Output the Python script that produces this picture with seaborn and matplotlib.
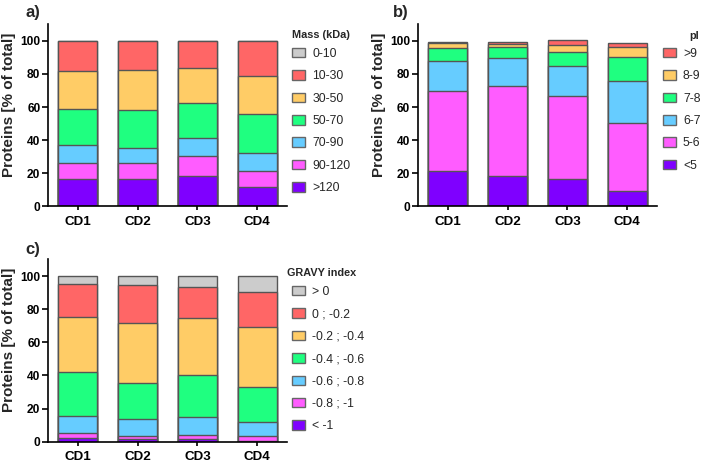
import pandas as pd
import matplotlib.pyplot as plt
import seaborn as sns
from matplotlib.patches import Patch

# samples on the x axis
samples = ["CD1", "CD2", "CD3", "CD4"]

# a) molecular mass classes, listed from the bottom of the stack to the top
mass_classes = [">120", "90-120", "70-90", "50-70", "30-50", "10-30", "0-10"]
mass_gt120 = [16.5, 16.5, 18.5, 11.5]
mass_90_120 = [10, 10, 12, 10]
mass_70_90 = [10.5, 9, 11, 11]
mass_50_70 = [22, 23, 21, 23]
mass_30_50 = [23, 24, 21, 23.5]
mass_10_30 = [18, 17.5, 16.5, 21]
mass_0_10 = [0, 0, 0, 0]

# b) isoelectric point classes
pi_classes = ["<5", "5-6", "6-7", "7-8", "8-9", ">9"]
pi_lt5 = [21.5, 18.5, 16.5, 9.5]
pi_5_6 = [48, 54, 50, 41]
pi_6_7 = [18, 17, 18, 25.5]
pi_7_8 = [8, 7, 9, 14]
pi_8_9 = [3, 1.5, 4, 6]
pi_gt9 = [1, 1, 3, 2.5]

# c) GRAVY index classes
gravy_classes = ["< -1", "-0.8 ; -1", "-0.6 ; -0.8", "-0.4 ; -0.6",
                 "-0.2 ; -0.4", "0 ; -0.2", "> 0"]
gravy_lt_m1 = [2.4, 1.5, 1.5, 0.5]
gravy_m08_m1 = [2.8, 2, 2.5, 2.7]
gravy_m06_m08 = [10.5, 10, 11, 8.8]
gravy_m04_m06 = [26.5, 22, 25.5, 21]
gravy_m02_m04 = [33, 36, 34, 36.5]
gravy_0_m02 = [20, 23, 19, 21]
gravy_gt0 = [5, 5.5, 6.5, 9.5]

PURPLE = "#7F00FF"
MAGENTA = "#FF5CFF"
BLUE = "#66CCFF"
GREEN = "#1FFF80"
YELLOW = "#FFCC66"
RED = "#FF6666"
GREY = "#CCCCCC"
EDGE = "#555555"

sns.set_style("ticks")
plt.rcParams["font.family"] = ["Liberation Sans", "DejaVu Sans"]


def stacked_panel(ax, layers, classes, colors, legend_title, legend_pos,
                  title_pos):
    """Draw stacked bars by overlaying cumulative barplots, top layer first."""
    rows = []
    cum = [0.0] * len(samples)
    for cls, vals in zip(classes, layers):
        cum = [c + v for c, v in zip(cum, vals)]
        for s, c in zip(samples, cum):
            rows.append({"sample": s, "cls": cls, "cum": c})
    df = pd.DataFrame(rows)

    for cls, col in reversed(list(zip(classes, colors))):
        sub = df[df["cls"] == cls]
        sns.barplot(data=sub, x="sample", y="cum", order=samples, color=col,
                    saturation=1, width=0.65, edgecolor=EDGE, linewidth=1,
                    errorbar=None, ax=ax)

    ax.set_xlim(-0.5, 3.5)
    ax.set_ylim(0, 110)
    ax.set_yticks([0, 20, 40, 60, 80, 100])
    ax.set_xlabel("")
    ax.set_ylabel("Proteins [% of total]", fontsize=11, fontweight="bold")
    ax.yaxis.set_label_coords(-0.134, 0.56)
    ax.tick_params(axis="y", length=4.5, width=1.2, colors="black",
                   labelsize=8.6, pad=1)
    ax.tick_params(axis="x", length=3, width=1.2, colors="black",
                   labelsize=9.6, pad=4)
    for lab in ax.get_xticklabels() + ax.get_yticklabels():
        lab.set_fontweight("bold")
    sns.despine(ax=ax)
    for sp in ("left", "bottom"):
        ax.spines[sp].set_linewidth(1.2)
        ax.spines[sp].set_color("black")

    handles = [Patch(facecolor=c, edgecolor="#666666", linewidth=1)
               for c in reversed(colors)]
    ax.legend(handles, list(reversed(classes)),
              loc="upper left", bbox_to_anchor=legend_pos,
              bbox_transform=ax.figure.transFigure, frameon=False,
              fontsize=8.8, handlelength=1.06, handleheight=0.82,
              handletextpad=0.58, labelspacing=0.85, borderpad=0,
              borderaxespad=0)
    ax.figure.text(title_pos[0], title_pos[1], legend_title, fontsize=7.8,
                   fontweight="bold", va="top", ha="left")


fig = plt.figure(figsize=(7.03, 4.65), dpi=100)
ax_a = fig.add_axes([0.0683, 0.556, 0.340, 0.392])
ax_b = fig.add_axes([0.5946, 0.556, 0.340, 0.392])
ax_c = fig.add_axes([0.0683, 0.05, 0.340, 0.392])

stacked_panel(ax_a,
              [mass_gt120, mass_90_120, mass_70_90, mass_50_70, mass_30_50,
               mass_10_30, mass_0_10],
              mass_classes,
              [PURPLE, MAGENTA, BLUE, GREEN, YELLOW, RED, GREY],
              "Mass (kDa)", (0.416, 0.897), (0.415, 0.935))
stacked_panel(ax_b,
              [pi_lt5, pi_5_6, pi_6_7, pi_7_8, pi_8_9, pi_gt9],
              pi_classes,
              [PURPLE, MAGENTA, BLUE, GREEN, YELLOW, RED],
              "pI", (0.943, 0.897), (0.981, 0.933))
stacked_panel(ax_c,
              [gravy_lt_m1, gravy_m08_m1, gravy_m06_m08, gravy_m04_m06,
               gravy_m02_m04, gravy_0_m02, gravy_gt0],
              gravy_classes,
              [PURPLE, MAGENTA, BLUE, GREEN, YELLOW, RED, GREY],
              "GRAVY index", (0.416, 0.385), (0.408, 0.423))

fig.text(0.0356, 0.989, "a)", fontsize=12, fontweight="bold", va="top")
fig.text(0.559, 0.989, "b)", fontsize=12, fontweight="bold", va="top")
fig.text(0.0356, 0.48, "c)", fontsize=12, fontweight="bold", va="top")

fig.savefig("out.png", dpi=100)
